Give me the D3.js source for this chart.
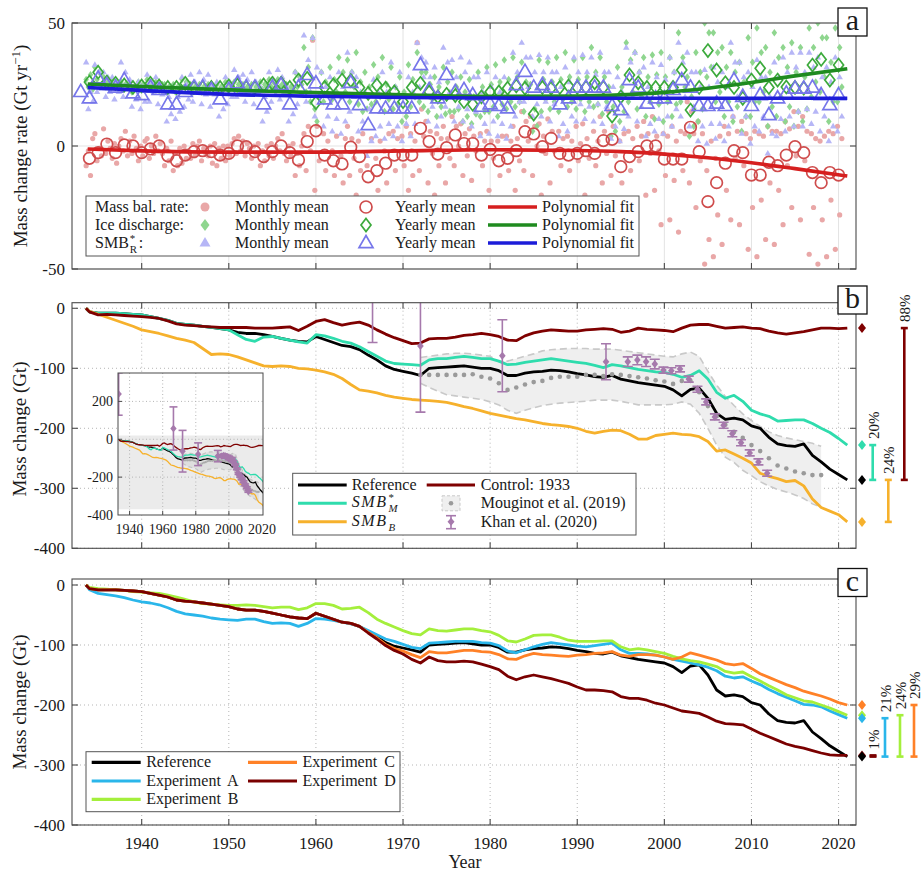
<!DOCTYPE html>
<html>
<head>
<meta charset="utf-8">
<script src="https://cdn.jsdelivr.net/npm/d3@7/dist/d3.min.js"></script>
<style>
  body { margin: 0; background: #fff; }
  svg { display: block; }
  text { font-family: "Liberation Serif", "DejaVu Serif", serif; fill: #1a1a1a; }
</style>
</head>
<body>
<svg id="fig" width="924" height="875"></svg>
<script>
// ---------------- data: panel a (rates, Gt/yr) ----------------
var aYears = d3.range(1933, 2021);            // yearly means
var mbYearly = [null,-5,-2.7,0.8,-2.7,0.4,0,-2.7,-1.2,0,-4,-6,-3.7,-2.3,-1.9,-2.3,-3.7,-3,0,-0.3,-2.3,-4.3,-2.3,0,-2.7,-5.7,1.8,6.2,-3.7,-6,-7.3,-0.5,-4.3,-12.5,-10,-7,-3.7,-3.7,-3.7,7.2,1.8,-3.3,-0.7,4.5,1,1,-3.7,-1.4,-6,-5,-1.9,5.8,4.9,-0.3,3.1,-3,-3.7,-3,-1.9,-3,2.2,2.7,-8.4,-4.3,-2.3,0,0,-5.3,-5.3,-5.3,7.6,-2.3,-22.6,-14.9,-7,-1.9,-2.7,-11.8,-11.8,-6.6,-8,-3.7,-0.3,-2.7,-10.8,-14.9,-10.8,-11.8];
var idYearly = [null,26,30,26,25.5,24.8,23.8,24.4,25.5,24.4,23.8,23.8,25.5,23.8,23.8,23.8,23.8,24.4,24.8,23.8,23.8,24.8,25.5,25.5,23.8,26.8,27.5,17.6,23.8,24.8,26.8,26.6,23.8,21.4,24.8,23.5,22,18,23.8,25.5,22,20,21,20.5,18,17,20,22,22,23.5,24.4,23.5,13,23.8,23.5,23.8,24.4,23.8,23.8,25.7,23.8,12.2,20,28.9,25.7,23.8,23.8,23.8,23.8,30.9,14.6,23.8,38.8,30.9,25.7,23.8,19.4,26.8,31.6,23.8,26.8,24,23.8,23.5,32.9,35.2,26.8,32.9];
var smbYearly = [22,19.4,27.5,24.8,23.8,26.8,21.4,20.7,23.8,22.8,17,17,22,23.8,23.8,22.8,19,22.8,25.5,23.8,23.8,17,23.8,24.8,17,23.8,28.9,25.5,19,17,17,25.7,16.7,8.5,15.3,15.3,15.3,15.3,15.3,32.9,22.8,19.4,28.9,22,22.8,20.7,16,17,16.3,15.3,24.8,30.2,23.8,24.8,23.8,17,19.4,23.8,23.8,23.8,23.8,16.3,14.6,26.8,23.8,17.3,19.4,19.4,22.8,26.8,23.8,16.3,16.3,17.3,16.3,26.8,20,16.3,20.7,12.6,19.4,21.4,23.4,23.4,23.8,20.7,16.7,20.7];

var mYears = d3.range(1934, 2021);            // monthly samples, 4 shown per year
var mbMonthly = [[-8,-2,-12,3],[5,-6,-1,-4],[7,-3,2,-1],[-5,1,-7,0],[3,-2,6,-4],[2,-3,4,-1],[-6,0,-4,2],[3,-5,0,-3],[4,-2,1,-3],[-8,-1,-6,2],
  [-10,-3,-8,-1],[-7,0,-5,-2],[-5,1,-4,0],[2,-6,-1,-3],[-4,0,-7,1],[-8,-1,-5,0],[-6,0,-4,1],[3,-3,4,-2],[2,-4,1,-1],[-5,0,-3,1],
  [-8,-2,-6,0],[-4,1,-5,0],[3,-2,5,-3],[-6,0,-4,1],[-12,-3,-8,0],[5,-10,8,-2],[43,-18,8,-6],[-22,5,-10,2],[-25,-2,-12,4],[-28,-4,-15,3],
  [8,-12,3,-5],[-20,2,-10,5],[-40,-8,-25,3],[-35,-5,-18,2],[-30,-2,-15,5],[-22,6,-10,3],[-25,4,-8,8],[-18,5,-12,2],[42,-10,15,4],[10,-15,6,-3],
  [-20,5,-8,3],[8,-15,3,-5],[12,-8,8,0],[9,-12,5,-4],[7,-14,4,-2],[-22,5,-8,2],[6,-18,2,-5],[-28,2,-12,4],[-25,4,-10,2],[8,-18,3,-6],
  [14,-10,10,2],[12,-12,8,0],[9,-20,4,-3],[11,-15,6,-2],[-25,6,-8,3],[-28,4,-10,2],[-22,8,-6,1],[9,-20,3,-5],[-24,6,-8,2],[12,-15,6,-3],
  [14,-12,8,-4],[-35,2,-15,5],[-28,6,-10,3],[-22,8,-6,4],[10,-20,5,-3],[12,-18,4,-2],[-32,5,-12,4],[-30,8,-14,2],[-35,6,-10,5],[18,-15,14,5],
  [-25,10,-6,5],[-48,-10,-38,2],[-45,-5,-28,4],[-40,8,-18,5],[-30,12,-5,6],[-32,10,-8,5],[-42,3,-25,6],[-45,5,-22,4],[-38,8,-15,6],[-40,6,-18,5],
  [-32,10,-8,7],[-25,14,-4,8],[-30,12,-6,6],[-44,5,-25,3],[-48,2,-30,4],[-45,6,-22,5],[-42,8,-28,3]];
var idMonthly = [[27,24,29,23],[32,27,30,25],[28,24,26,23],[27,24,25,23],[26,23,25,24],[25,22,24,23],[26,23,25,24],[27,24,25,23],[26,23,24,25],[25,22,24,23],
  [25,22,24,23],[27,24,26,24],[25,22,24,23],[25,22,24,23],[25,23,24,22],[25,22,24,23],[26,23,25,24],[26,23,25,24],[25,22,24,23],[25,22,24,23],
  [26,23,25,24],[27,24,26,24],[27,24,25,25],[25,22,24,23],[30,24,28,25],[40,22,32,18],[44,15,10,20],[30,18,26,21],[32,19,27,22],[36,20,30,22],
  [35,18,30,24],[38,17,26,14],[30,15,24,17],[33,18,28,20],[36,14,25,19],[32,15,24,17],[28,10,22,12],[33,16,27,20],[38,18,30,16],[30,14,25,19],
  [28,12,24,16],[32,13,26,14],[30,14,24,15],[28,10,22,12],[27,9,20,13],[30,12,24,14],[32,14,25,16],[33,12,26,17],[35,15,27,18],[36,16,28,18],
  [34,14,26,20],[25,6,15,8],[35,14,27,19],[34,15,26,18],[36,14,27,19],[38,16,28,18],[35,15,27,19],[36,14,28,18],[40,16,30,17],[36,13,28,18],
  [24,4,16,6],[32,10,24,14],[42,18,35,22],[38,15,30,20],[36,12,28,18],[37,11,29,17],[38,10,28,18],[36,12,30,17],[46,18,36,24],[28,4,20,8],
  [38,10,30,15],[50,28,46,32],[46,18,38,22],[40,12,32,18],[38,10,30,16],[34,6,26,12],[44,12,34,18],[48,18,38,22],[40,8,30,16],[46,12,36,20],
  [40,10,32,16],[42,8,30,14],[40,10,28,15],[48,20,40,26],[50,22,44,28],[44,10,34,18],[48,18,40,24]];
var smbMonthly = [[34,15,22,18],[33,22,30,25],[30,20,28,22],[28,19,26,22],[34,20,30,24],[27,16,24,19],[26,15,24,18],[29,18,26,22],[28,17,25,21],[24,10,20,13],
  [24,11,20,14],[28,16,25,19],[29,18,26,22],[30,17,27,21],[29,16,25,21],[26,12,23,15],[28,17,26,20],[31,20,28,23],[29,18,27,21],[30,17,26,22],
  [24,10,20,14],[30,18,27,21],[31,19,28,22],[24,10,21,13],[30,17,27,21],[45,18,35,22],[44,12,32,20],[30,8,24,12],[28,6,22,11],[30,5,24,10],
  [38,14,30,20],[28,6,22,10],[22,-4,15,2],[27,4,22,8],[30,3,22,9],[34,4,24,8],[30,2,20,9],[28,4,22,9],[42,24,36,28],[34,10,28,16],
  [32,8,26,12],[40,16,34,22],[35,10,28,16],[36,10,30,15],[34,8,28,14],[28,4,22,9],[30,5,24,10],[28,4,22,9],[28,3,20,8],[38,12,30,18],
  [42,18,36,24],[36,12,30,17],[37,12,30,18],[36,10,30,17],[30,4,24,9],[32,6,26,12],[36,10,30,17],[37,11,30,16],[36,10,29,17],[38,9,30,16],
  [30,3,24,8],[28,2,22,7],[40,12,34,20],[38,10,30,16],[32,4,24,9],[34,6,28,11],[33,5,27,12],[36,8,30,15],[42,12,34,20],[38,8,30,16],
  [30,2,24,8],[31,1,24,9],[32,3,26,9],[30,2,24,8],[42,12,34,20],[34,5,28,12],[30,1,24,8],[35,6,28,12],[28,-3,20,5],[34,4,28,11],
  [36,6,30,12],[38,8,32,14],[38,8,30,15],[38,9,32,14],[36,6,28,12],[32,2,26,8],[36,6,28,12]];

var fitYears = [1933.8,1940,1950,1960,1970,1980,1990,1995,2000,2005,2010,2015,2021];
var mbFit  = [-1.2,-2.0,-2.5,-2.5,-2.0,-1.5,-1.8,-2.3,-3.3,-4.8,-6.8,-9.2,-12.2];
var idFit  = [25.2,24.2,22.8,21.7,20.8,20.2,20.3,20.8,21.8,23.5,25.8,28.5,31.4];
var smbFit = [23.8,22.6,21.0,20.2,19.7,19.5,19.4,19.4,19.4,19.4,19.4,19.4,19.4];

// ---------------- data: panels b & c (cumulative, Gt) ----------------
var cumYears = [1933.6].concat(d3.range(1934, 2022));
var refCum = [0,-6,-8,-8,-8,-9,-10,-11,-14,-17,-20,-25,-27,-28,-30,-32,-34,-36,-40,-42,-42,-44,-47,-50,-53,-55,-56,-47,-52,-57,-62,-64,-69,-78,-86,-96,-102,-105,-108,-112,-100,-99,-98,-97,-96,-98,-100,-100,-104,-112,-112,-108,-106,-105,-103,-104,-106,-109,-111,-114,-115,-112,-118,-121,-124,-126,-128,-130,-136,-146,-135,-133,-150,-175,-185,-183,-186,-196,-200,-215,-226,-229,-230,-226,-245,-256,-268,-277,-286];
var smbMCum = [0,-6,-8,-8,-8,-9,-10,-11,-14,-17,-20,-25,-27,-28,-30,-32,-34,-36,-44,-52,-55,-48,-47,-50,-53,-56,-58,-44,-46,-50,-55,-58,-64,-72,-80,-88,-92,-93,-94,-95,-86,-84,-84,-82,-80,-82,-84,-84,-88,-94,-93,-90,-88,-86,-84,-86,-88,-90,-92,-95,-99,-94,-96,-99,-102,-104,-106,-107,-110,-115,-112,-104,-118,-140,-150,-145,-155,-170,-176,-180,-188,-187,-186,-186,-192,-200,-207,-217,-228];
var smbBCum = [0,-5,-10,-15,-20,-25,-30,-36,-39,-42,-46,-50,-53,-57,-67,-77,-76,-77,-81,-86,-91,-96,-97,-96,-97,-100,-101,-103,-106,-110,-117,-127,-136,-138,-141,-145,-148,-150,-152,-153,-154,-155,-157,-160,-164,-167,-171,-175,-178,-181,-184,-186,-189,-192,-194,-195,-197,-200,-205,-208,-205,-203,-204,-210,-218,-218,-212,-210,-208,-210,-211,-214,-222,-238,-236,-243,-250,-258,-275,-280,-284,-289,-287,-296,-318,-332,-338,-344,-356];
var ctrlCum = [0,-6,-11,-10,-11,-12,-13,-14,-15,-17,-21,-26,-28,-29,-30,-31,-32,-32,-32,-32,-33,-33,-33,-32,-31,-37,-30,-22,-19,-24,-28,-25,-23,-28,-36,-43,-49,-54,-59,-58,-51,-50,-50,-48,-45,-44,-42,-44,-47,-53,-54,-46,-41,-38,-36,-37,-38,-38,-36,-35,-34,-35,-40,-38,-33,-35,-36,-37,-39,-33,-28,-27,-27,-30,-33,-32,-31,-33,-34,-38,-41,-43,-41,-39,-36,-33,-33,-34,-33];
var expA = [0,-8,-14,-16,-18,-21,-25,-28,-30,-33,-38,-44,-48,-50,-52,-55,-57,-58,-59,-57,-57,-61,-64,-63,-64,-69,-64,-56,-57,-59,-62,-65,-69,-76,-83,-90,-94,-99,-104,-106,-97,-96,-95,-94,-94,-94,-96,-97,-101,-110,-113,-108,-103,-99,-96,-98,-100,-102,-103,-101,-99,-97,-108,-114,-114,-115,-117,-120,-124,-127,-130,-133,-137,-143,-152,-155,-153,-160,-166,-174,-181,-187,-193,-199,-200,-203,-210,-216,-222];
var expB = [0,-4,-6,-7,-8,-9,-11,-12,-13,-14,-17,-20,-24,-28,-31,-32,-33,-34,-34,-33,-34,-36,-38,-37,-37,-41,-38,-31,-31,-34,-40,-39,-37,-46,-57,-64,-70,-76,-81,-83,-73,-76,-77,-75,-73,-73,-76,-78,-84,-93,-95,-90,-84,-83,-83,-87,-92,-94,-94,-94,-93,-93,-103,-108,-106,-108,-111,-114,-119,-123,-126,-128,-132,-136,-144,-147,-145,-153,-160,-168,-175,-183,-188,-193,-195,-200,-205,-211,-217];
var expC = [0,-6,-8,-8,-8,-9,-10,-11,-14,-17,-20,-25,-27,-28,-30,-32,-34,-36,-40,-42,-42,-44,-47,-50,-53,-55,-56,-47,-52,-57,-62,-64,-69,-79,-88,-99,-106,-110,-116,-121,-111,-113,-113,-111,-109,-109,-111,-112,-116,-123,-124,-118,-114,-116,-117,-118,-119,-117,-116,-114,-113,-111,-117,-119,-116,-116,-117,-120,-124,-120,-113,-117,-121,-125,-131,-133,-131,-139,-148,-154,-160,-166,-171,-177,-181,-185,-190,-196,-200];
var expD = [0,-6,-8,-8,-8,-9,-10,-11,-14,-17,-20,-25,-27,-28,-30,-32,-34,-36,-40,-42,-42,-44,-47,-50,-53,-55,-56,-47,-52,-57,-62,-64,-69,-80,-90,-101,-109,-115,-124,-130,-120,-126,-128,-128,-127,-128,-132,-136,-141,-152,-158,-153,-150,-153,-156,-160,-164,-170,-175,-175,-176,-178,-186,-189,-189,-192,-197,-200,-205,-210,-212,-214,-220,-227,-231,-232,-233,-240,-247,-253,-259,-265,-269,-272,-276,-280,-283,-284,-284];

var mougYears = d3.range(1972, 2019);
var mougMean = [-111,-111,-111,-111,-111,-111,-110,-114,-117,-125,-136,-132,-127,-123,-121,-116,-114,-114,-114,-111,-111,-113,-110,-111,-113,-115,-117,-120,-122,-126,-121,-121,-140,-163,-180,-194,-206,-216,-228,-238,-250,-262,-267,-272,-275,-278,-278];
var mougHi = [-82,-80,-78,-76,-75,-75,-76,-78,-80,-89,-88,-84,-80,-76,-71,-69,-68,-67,-67,-67,-68,-68,-68,-70,-72,-74,-76,-78,-80,-81,-76,-73,-80,-105,-128,-147,-162,-176,-187,-197,-206,-212,-216,-219,-222,-225,-230];
var mougLo = [-125,-132,-138,-144,-146,-148,-150,-152,-156,-161,-170,-175,-170,-166,-162,-160,-158,-157,-156,-155,-153,-153,-153,-155,-158,-161,-161,-161,-161,-160,-156,-160,-175,-200,-228,-248,-257,-270,-279,-289,-296,-302,-306,-311,-317,-326,-331];

var khanYears = [1933.4,1966.5,1972.0,1981.4,1993.3,1995.8,1996.9,1997.9,1998.9,1999.9,2000.8,2001.8,2002.8,2003.8,2004.8,2005.8,2006.8,2007.8,2008.8,2009.8,2010.8,2011.8];
var khanVals  = [239,57,-63,-79,-89,-89,-86,-89,-93,-103,-104,-101,-118,-135,-156,-181,-195,-209,-224,-241,-256,-275];
var khanErr   = [112,114,110,60,30,8,8,8,8,5,5,5,5,5,5,5,5,5,5,5,5,5];

var pctB = ["20%", "24%", "88%"];
var pctC = ["1%", "21%", "24%", "29%"];

// ---------------- drawing ----------------
var svg = d3.select('#fig');
var decades = d3.range(1940, 2030, 10);
var xMain = d3.scaleLinear().domain([1932, 2022]).range([72, 856]);
var frameCol = '#4a4a4a';

function diamond(w, h) { return 'M0,' + (-h / 2) + 'L' + (w / 2) + ',0L0,' + (h / 2) + 'L' + (-w / 2) + ',0Z'; }
function triangle(w) { var h = w * 0.866; return 'M0,' + (-h * 0.62) + 'L' + (w / 2) + ',' + (h * 0.38) + 'L' + (-w / 2) + ',' + (h * 0.38) + 'Z'; }

function makePanel(id, top, bottom, ydom, yticks, dotted) {
  var y = d3.scaleLinear().domain(ydom).range([bottom, top]);
  var g = svg.append('g');
  svg.append('clipPath').attr('id', id).append('rect')
    .attr('x', 72).attr('y', top).attr('width', 784).attr('height', bottom - top);
  var grid = g.append('g').attr('stroke', dotted ? '#b5b5b5' : '#e3e3e3').attr('stroke-width', 1)
    .attr('stroke-dasharray', dotted ? '1,3' : null);
  grid.selectAll('line.v').data(decades).join('line').attr('class', 'v')
    .attr('x1', function (d) { return xMain(d); }).attr('x2', function (d) { return xMain(d); })
    .attr('y1', top).attr('y2', bottom);
  grid.selectAll('line.h').data(yticks).join('line').attr('class', 'h')
    .attr('x1', 72).attr('x2', 856)
    .attr('y1', function (d) { return y(d); }).attr('y2', function (d) { return y(d); });
  g.selectAll('text.yl').data(yticks).join('text').attr('class', 'yl')
    .attr('x', 65).attr('y', function (d) { return y(d); }).attr('dy', '0.35em')
    .attr('text-anchor', 'end').attr('font-size', 17).text(function (d) { return String(d); });
  var plot = g.append('g').attr('clip-path', 'url(#' + id + ')');
  return { g: g, y: y, plot: plot, top: top, bottom: bottom, yticks: yticks };
}

function finishFrame(p) {
  var f = svg.append('g').attr('stroke', frameCol).attr('stroke-width', 1.1);
  decades.forEach(function (d) {
    var x = xMain(d);
    f.append('line').attr('x1', x).attr('x2', x).attr('y1', p.bottom).attr('y2', p.bottom - 6);
    f.append('line').attr('x1', x).attr('x2', x).attr('y1', p.top).attr('y2', p.top + 6);
  });
  p.yticks.forEach(function (v) {
    var yy = p.y(v);
    f.append('line').attr('x1', 72).attr('x2', 78).attr('y1', yy).attr('y2', yy);
    f.append('line').attr('x1', 856).attr('x2', 850).attr('y1', yy).attr('y2', yy);
  });
  f.append('rect').attr('x', 72).attr('y', p.top).attr('width', 784).attr('height', p.bottom - p.top).attr('fill', 'none');
}

function panelTag(letter, top) {
  svg.append('rect').attr('x', 838).attr('y', top).attr('width', 29).attr('height', 28)
    .attr('fill', '#fff').attr('stroke', '#111').attr('stroke-width', 1.3);
  svg.append('text').attr('x', 852.5).attr('y', top + 22).attr('text-anchor', 'middle')
    .attr('font-size', 30).text(letter);
}

function yTitle(x, y, txt) {
  return svg.append('text').attr('transform', 'translate(' + x + ',' + y + ') rotate(-90)')
    .attr('text-anchor', 'middle').attr('font-size', 19).text(txt);
}

function smbText(g, x, y, sup, sub, italic, size) {
  var t = g.append('text').attr('x', x).attr('y', y).attr('font-size', size)
    .attr('font-style', italic ? 'italic' : null).attr('letter-spacing', italic ? 1.6 : null).text('SMB');
  var w = t.node().getComputedTextLength();
  if (sup) g.append('text').attr('x', x + w + 1).attr('y', y - size * 0.38).attr('font-size', size * 0.68).text(sup);
  if (sub) g.append('text').attr('x', x + w + 1).attr('y', y + size * 0.3).attr('font-size', size * 0.68)
    .attr('font-style', italic ? 'italic' : null).text(sub);
  return w;
}

var line = function (xs, ys, xsc, ysc) {
  return d3.line().defined(function (d) { return d[1] != null; })
    .x(function (d) { return xsc(d[0]); }).y(function (d) { return ysc(d[1]); })(d3.zip(xs, ys));
};

// ===== panel a =====
var A = makePanel('clipA', 23, 269, [-50, 50], [-50, 0, 50], false);
function flatMonthly(arr) {
  var out = [];
  arr.forEach(function (vals, i) { vals.forEach(function (v, k) { out.push([mYears[i] - 0.375 + k * 0.25, v]); }); });
  return out;
}
A.plot.selectAll('circle.mr').data(flatMonthly(mbMonthly)).join('circle').attr('class', 'mr')
  .attr('cx', function (d) { return xMain(d[0]); }).attr('cy', function (d) { return A.y(d[1]); })
  .attr('r', 2.6).attr('fill', '#e9a7a7');
A.plot.selectAll('path.mg').data(flatMonthly(idMonthly)).join('path').attr('class', 'mg')
  .attr('d', diamond(5.5, 7.5)).attr('fill', '#8fd68f')
  .attr('transform', function (d) { return 'translate(' + xMain(d[0]) + ',' + A.y(d[1]) + ')'; });
A.plot.selectAll('path.mb').data(flatMonthly(smbMonthly)).join('path').attr('class', 'mb')
  .attr('d', triangle(6.5)).attr('fill', '#b6b6f6')
  .attr('transform', function (d) { return 'translate(' + xMain(d[0]) + ',' + A.y(d[1]) + ')'; });

var yrMb = d3.zip(aYears, mbYearly).filter(function (d) { return d[1] != null; });
var yrId = d3.zip(aYears, idYearly).filter(function (d) { return d[1] != null; });
var yrSmb = d3.zip(aYears, smbYearly);
A.plot.selectAll('circle.yr').data(yrMb).join('circle').attr('class', 'yr')
  .attr('cx', function (d) { return xMain(d[0]); }).attr('cy', function (d) { return A.y(d[1]); })
  .attr('r', 5.8).attr('fill', 'none').attr('stroke', '#cf4c4c').attr('stroke-width', 1.7);
A.plot.selectAll('path.yg').data(yrId).join('path').attr('class', 'yg')
  .attr('d', diamond(10, 13)).attr('fill', 'none').attr('stroke', '#3caa3c').attr('stroke-width', 1.7)
  .attr('transform', function (d) { return 'translate(' + xMain(d[0]) + ',' + A.y(d[1]) + ')'; });
A.plot.selectAll('path.yb').data(yrSmb).join('path').attr('class', 'yb')
  .attr('d', triangle(14)).attr('fill', 'none').attr('stroke', '#7676ea').attr('stroke-width', 1.7)
  .attr('transform', function (d) { return 'translate(' + xMain(d[0]) + ',' + A.y(d[1]) + ')'; });

var fitLine = d3.line().curve(d3.curveMonotoneX)
  .x(function (d) { return xMain(d[0]); }).y(function (d) { return A.y(d[1]); });
[[mbFit, '#d61f1f'], [idFit, '#1f8b1f'], [smbFit, '#1c1cd9']].forEach(function (s) {
  A.plot.append('path').attr('d', fitLine(d3.zip(fitYears, s[0]))).attr('fill', 'none')
    .attr('stroke', s[1]).attr('stroke-width', 3.6);
});

// legend a
var LA = svg.append('g');
LA.append('rect').attr('x', 86).attr('y', 196).attr('width', 553).attr('height', 60)
  .attr('fill', '#fff').attr('stroke', '#555').attr('stroke-width', 1);
var rowsA = [207, 225, 243];
LA.append('text').attr('x', 95).attr('y', rowsA[0] + 5).attr('font-size', 16).text('Mass bal. rate:');
LA.append('text').attr('x', 95).attr('y', rowsA[1] + 5).attr('font-size', 16).text('Ice discharge:');
var wS = smbText(LA, 95, rowsA[2] + 5, '*', 'R', false, 16);
LA.append('text').attr('x', 95 + wS + 10).attr('y', rowsA[2] + 5).attr('font-size', 16).text(':');
LA.append('circle').attr('cx', 205).attr('cy', rowsA[0]).attr('r', 4.5).attr('fill', '#e9a7a7');
LA.append('path').attr('d', diamond(9, 12)).attr('fill', '#8fd68f').attr('transform', 'translate(205,' + rowsA[1] + ')');
LA.append('path').attr('d', triangle(11)).attr('fill', '#b6b6f6').attr('transform', 'translate(205,' + rowsA[2] + ')');
LA.append('circle').attr('cx', 366).attr('cy', rowsA[0]).attr('r', 6).attr('fill', 'none').attr('stroke', '#cf4c4c').attr('stroke-width', 1.7);
LA.append('path').attr('d', diamond(10, 13)).attr('fill', 'none').attr('stroke', '#3caa3c').attr('stroke-width', 1.7).attr('transform', 'translate(366,' + rowsA[1] + ')');
LA.append('path').attr('d', triangle(14)).attr('fill', 'none').attr('stroke', '#7676ea').attr('stroke-width', 1.7).attr('transform', 'translate(366,' + rowsA[2] + ')');
['#d61f1f', '#1f8b1f', '#1c1cd9'].forEach(function (c, i) {
  LA.append('text').attr('x', 235).attr('y', rowsA[i] + 5).attr('font-size', 16).text('Monthly mean');
  LA.append('text').attr('x', 395).attr('y', rowsA[i] + 5).attr('font-size', 16).text('Yearly mean');
  LA.append('line').attr('x1', 488).attr('x2', 537).attr('y1', rowsA[i]).attr('y2', rowsA[i]).attr('stroke', c).attr('stroke-width', 3.6);
  LA.append('text').attr('x', 542).attr('y', rowsA[i] + 5).attr('font-size', 16).text('Polynomial fit');
});
finishFrame(A);
panelTag('a', 8);
var tA = yTitle(27, 146, '');
tA.append('tspan').text('Mass change rate (Gt yr');
tA.append('tspan').attr('dy', -7).attr('font-size', 13).text('\u22121');
tA.append('tspan').attr('dy', 7).text(')');

// ===== panel b =====
var B = makePanel('clipB', 302.7, 548.3, [-400, 9.3], [-400, -300, -200, -100, 0], true);
var band = d3.area().x(function (d) { return xMain(d[0]); })
  .y0(function (d) { return B.y(d[2]); }).y1(function (d) { return B.y(d[1]); });
var mougRows = d3.zip(mougYears, mougHi, mougLo);
B.plot.append('path').attr('d', band(mougRows)).attr('fill', '#efefef');
B.plot.append('path').attr('d', line(mougYears, mougHi, xMain, B.y)).attr('fill', 'none')
  .attr('stroke', '#c9c9c9').attr('stroke-width', 1.6).attr('stroke-dasharray', '7,4');
B.plot.append('path').attr('d', line(mougYears, mougLo, xMain, B.y)).attr('fill', 'none')
  .attr('stroke', '#c9c9c9').attr('stroke-width', 1.6).attr('stroke-dasharray', '7,4');
[[refCum, '#000'], [smbMCum, '#2fdcad'], [smbBCum, '#f6b12c'], [ctrlCum, '#7f0000']].forEach(function (s) {
  B.plot.append('path').attr('d', line(cumYears, s[0], xMain, B.y)).attr('fill', 'none')
    .attr('stroke', s[1]).attr('stroke-width', 2.8).attr('stroke-linejoin', 'round');
});
B.plot.selectAll('circle.md').data(d3.zip(mougYears, mougMean)).join('circle').attr('class', 'md')
  .attr('cx', function (d) { return xMain(d[0]); }).attr('cy', function (d) { return B.y(d[1]); })
  .attr('r', 2.3).attr('fill', '#9a9a9a');

function khan(g, xs, ys, cap, r, w) {
  var rows = d3.zip(khanYears, khanVals, khanErr);
  var k = g.append('g').attr('stroke', '#a679ac').attr('stroke-width', w);
  rows.forEach(function (d) {
    var x = xs(d[0]), y1 = ys(d[1] + d[2]), y2 = ys(d[1] - d[2]);
    k.append('line').attr('x1', x).attr('x2', x).attr('y1', y1).attr('y2', y2);
    k.append('line').attr('x1', x - cap).attr('x2', x + cap).attr('y1', y1).attr('y2', y1);
    k.append('line').attr('x1', x - cap).attr('x2', x + cap).attr('y1', y2).attr('y2', y2);
  });
  g.selectAll('path.kd').data(rows).join('path').attr('class', 'kd')
    .attr('d', diamond(r * 2, r * 2.4)).attr('fill', '#a679ac')
    .attr('transform', function (d) { return 'translate(' + xs(d[0]) + ',' + ys(d[1]) + ')'; });
}
khan(B.plot, xMain, B.y, 5, 3.3, 1.6);

// legend b
var LB = svg.append('g');
LB.append('rect').attr('x', 292.7).attr('y', 473.3).attr('width', 343.3).attr('height', 61.7)
  .attr('fill', '#fff').attr('stroke', '#555');
var rowsB = [485, 503.3, 521.7];
[['#000', 0], ['#2fdcad', 1], ['#f6b12c', 2]].forEach(function (s) {
  LB.append('line').attr('x1', 298).attr('x2', 346.7).attr('y1', rowsB[s[1]]).attr('y2', rowsB[s[1]])
    .attr('stroke', s[0]).attr('stroke-width', 3);
});
LB.append('text').attr('x', 351.7).attr('y', rowsB[0] + 5).attr('font-size', 16).text('Reference');
smbText(LB, 351.7, rowsB[1] + 4, '*', 'M', true, 16);
smbText(LB, 351.7, rowsB[2] + 4, null, 'B', true, 16);
LB.append('line').attr('x1', 426.7).attr('x2', 475).attr('y1', rowsB[0]).attr('y2', rowsB[0]).attr('stroke', '#7f0000').attr('stroke-width', 3);
LB.append('rect').attr('x', 442).attr('y', rowsB[1] - 7.5).attr('width', 18).attr('height', 15)
  .attr('fill', '#efefef').attr('stroke', '#c9c9c9').attr('stroke-dasharray', '3,2');
LB.append('circle').attr('cx', 451).attr('cy', rowsB[1]).attr('r', 2.3).attr('fill', '#9a9a9a');
var kl = LB.append('g').attr('stroke', '#a679ac').attr('stroke-width', 1.6);
kl.append('line').attr('x1', 451).attr('x2', 451).attr('y1', rowsB[2] - 6).attr('y2', rowsB[2] + 7);
kl.append('line').attr('x1', 446).attr('x2', 456).attr('y1', rowsB[2] - 6).attr('y2', rowsB[2] - 6);
kl.append('line').attr('x1', 446).attr('x2', 456).attr('y1', rowsB[2] + 7).attr('y2', rowsB[2] + 7);
LB.append('path').attr('d', diamond(7, 8)).attr('fill', '#a679ac').attr('transform', 'translate(451,' + rowsB[2] + ')');
LB.append('text').attr('x', 480.7).attr('y', rowsB[0] + 5).attr('font-size', 16).text('Control: 1933');
LB.append('text').attr('x', 480.7).attr('y', rowsB[1] + 5).attr('font-size', 16).text('Mouginot et al. (2019)');
LB.append('text').attr('x', 480.7).attr('y', rowsB[2] + 5).attr('font-size', 16).text('Khan et al. (2020)');

// inset
var xI = d3.scaleLinear().domain([1933, 2020.6]).range([118, 263]);
var yI = d3.scaleLinear().domain([-400, 350]).range([515, 373]);
var IN = svg.append('g');
IN.append('rect').attr('x', 118).attr('y', 373).attr('width', 145).attr('height', 142).attr('fill', '#fff');
svg.append('clipPath').attr('id', 'clipI').append('rect').attr('x', 118).attr('y', 373).attr('width', 145).attr('height', 142);
var INp = IN.append('g').attr('clip-path', 'url(#clipI)');
INp.append('rect').attr('x', 118).attr('y', yI(20)).attr('width', 145).attr('height', yI(-370) - yI(20)).attr('fill', '#ebebeb');
var gI = INp.append('g').attr('stroke', '#b5b5b5').attr('stroke-dasharray', '1,2.5');
[1940, 1960, 1980, 2000].forEach(function (d) { gI.append('line').attr('x1', xI(d)).attr('x2', xI(d)).attr('y1', 373).attr('y2', 515); });
[200, 0, -200].forEach(function (v) { gI.append('line').attr('x1', 118).attr('x2', 263).attr('y1', yI(v)).attr('y2', yI(v)); });
var bandI = d3.area().x(function (d) { return xI(d[0]); })
  .y0(function (d) { return yI(d[2]); }).y1(function (d) { return yI(d[1]); });
INp.append('path').attr('d', bandI(mougRows)).attr('fill', '#dedede');
[mougHi, mougLo].forEach(function (s) {
  INp.append('path').attr('d', line(mougYears, s, xI, yI)).attr('fill', 'none')
    .attr('stroke', '#c4c4c4').attr('stroke-width', 1.2).attr('stroke-dasharray', '4,3');
});
[[refCum, '#000'], [smbMCum, '#2fdcad'], [smbBCum, '#f6b12c'], [ctrlCum, '#7f0000']].forEach(function (s) {
  INp.append('path').attr('d', line(cumYears, s[0], xI, yI)).attr('fill', 'none')
    .attr('stroke', s[1]).attr('stroke-width', 1.3);
});
INp.selectAll('circle.mi').data(d3.zip(mougYears, mougMean)).join('circle').attr('class', 'mi')
  .attr('cx', function (d) { return xI(d[0]); }).attr('cy', function (d) { return yI(d[1]); })
  .attr('r', 1.1).attr('fill', '#aaa');
khan(INp, xI, yI, 4, 3.2, 1.6);
var fI = IN.append('g').attr('stroke', frameCol);
[1940, 1960, 1980, 2000].forEach(function (d) { fI.append('line').attr('x1', xI(d)).attr('x2', xI(d)).attr('y1', 515).attr('y2', 511); });
[200, 0, -200].forEach(function (v) { fI.append('line').attr('x1', 118).attr('x2', 122).attr('y1', yI(v)).attr('y2', yI(v)); });
fI.append('rect').attr('x', 118).attr('y', 373).attr('width', 145).attr('height', 142).attr('fill', 'none');
[200, 0, -200, -400].forEach(function (v) {
  IN.append('text').attr('x', 113).attr('y', yI(v)).attr('dy', '0.35em').attr('text-anchor', 'end').attr('font-size', 14).text(String(v));
});
[1940, 1960, 1980, 2000, 2020].forEach(function (d) {
  IN.append('text').attr('x', xI(d)).attr('y', 534).attr('text-anchor', 'middle').attr('font-size', 14).text(d);
});

finishFrame(B);
panelTag('b', 286);
yTitle(26, 429, 'Mass change (Gt)');

// end markers b
function endDiamond(p, v, color) {
  svg.append('path').attr('d', diamond(8, 10)).attr('fill', color)
    .attr('transform', 'translate(862,' + p.y(v) + ')');
}
function spanBar(p, x, v1, v2, color, label) {
  var y1 = p.y(v1), y2 = p.y(v2), yt = Math.min(y1, y2);
  var g = svg.append('g').attr('stroke', color).attr('stroke-width', 2.6);
  g.append('line').attr('x1', x).attr('x2', x).attr('y1', y1).attr('y2', y2);
  g.append('line').attr('x1', x - 3.5).attr('x2', x + 3.5).attr('y1', y1).attr('y2', y1);
  g.append('line').attr('x1', x - 3.5).attr('x2', x + 3.5).attr('y1', y2).attr('y2', y2);
  svg.append('text').attr('transform', 'translate(' + (x + 1) + ',' + (yt - 6) + ') rotate(-90)')
    .attr('dominant-baseline', 'central').attr('font-size', 15).attr('fill', '#333').text(label);
}
var lastB = function (a) { return a[a.length - 1]; };
endDiamond(B, lastB(ctrlCum), '#7f0000');
endDiamond(B, lastB(smbMCum), '#2fdcad');
endDiamond(B, lastB(refCum), '#000');
endDiamond(B, lastB(smbBCum), '#f6b12c');
spanBar(B, 872.7, lastB(smbMCum), lastB(refCum), '#2fdcad', pctB[0]);
spanBar(B, 888.3, lastB(refCum), lastB(smbBCum), '#f6b12c', pctB[1]);
spanBar(B, 904.3, lastB(ctrlCum), lastB(refCum), '#7f0000', pctB[2]);

// ===== panel c =====
var C = makePanel('clipC', 579, 825, [-400, 10], [-400, -300, -200, -100, 0], true);
var colsC = { ref: '#000', A: '#2ab6ea', B: '#a4ef3c', C: '#ff8127', D: '#7a0000' };
[[refCum, colsC.ref], [expA, colsC.A], [expB, colsC.B], [expC, colsC.C], [expD, colsC.D]].forEach(function (s) {
  C.plot.append('path').attr('d', line(cumYears, s[0], xMain, C.y)).attr('fill', 'none')
    .attr('stroke', s[1]).attr('stroke-width', 2.8).attr('stroke-linejoin', 'round');
});
var LC = svg.append('g');
LC.append('rect').attr('x', 86).attr('y', 751.7).attr('width', 314).attr('height', 60)
  .attr('fill', '#fff').attr('stroke', '#555');
var rowsC = [762.3, 781, 799.3];
[['Reference', colsC.ref, 91.7, 0], ['Experiment A', colsC.A, 91.7, 1], ['Experiment B', colsC.B, 91.7, 2],
 ['Experiment C', colsC.C, 248, 0], ['Experiment D', colsC.D, 248, 1]].forEach(function (s) {
  LC.append('line').attr('x1', s[2]).attr('x2', s[2] + 49).attr('y1', rowsC[s[3]]).attr('y2', rowsC[s[3]])
    .attr('stroke', s[1]).attr('stroke-width', 3.2);
  LC.append('text').attr('x', s[2] + 54.5).attr('y', rowsC[s[3]] + 5).attr('font-size', 16)
    .attr('word-spacing', 3).text(s[0]);
});
finishFrame(C);
panelTag('c', 568.5);
yTitle(26, 702, 'Mass change (Gt)');
svg.selectAll('text.xl').data(decades).join('text').attr('class', 'xl')
  .attr('x', function (d) { return xMain(d); }).attr('y', 849).attr('text-anchor', 'middle')
  .attr('font-size', 17).text(function (d) { return d; });
svg.append('text').attr('x', 465).attr('y', 868).attr('text-anchor', 'middle').attr('font-size', 18).text('Year');

endDiamond(C, lastB(expC), colsC.C);
endDiamond(C, lastB(expB), colsC.B);
endDiamond(C, lastB(expA), colsC.A);
endDiamond(C, lastB(expD), colsC.D);
endDiamond(C, lastB(refCum), '#000');
spanBar(C, 873, lastB(expD), lastB(refCum), colsC.D, pctC[0]);
spanBar(C, 885, lastB(expA), lastB(refCum), colsC.A, pctC[1]);
spanBar(C, 900, lastB(expB), lastB(refCum), colsC.B, pctC[2]);
spanBar(C, 914, lastB(expC), lastB(refCum), colsC.C, pctC[3]);
</script>
</body>
</html>
